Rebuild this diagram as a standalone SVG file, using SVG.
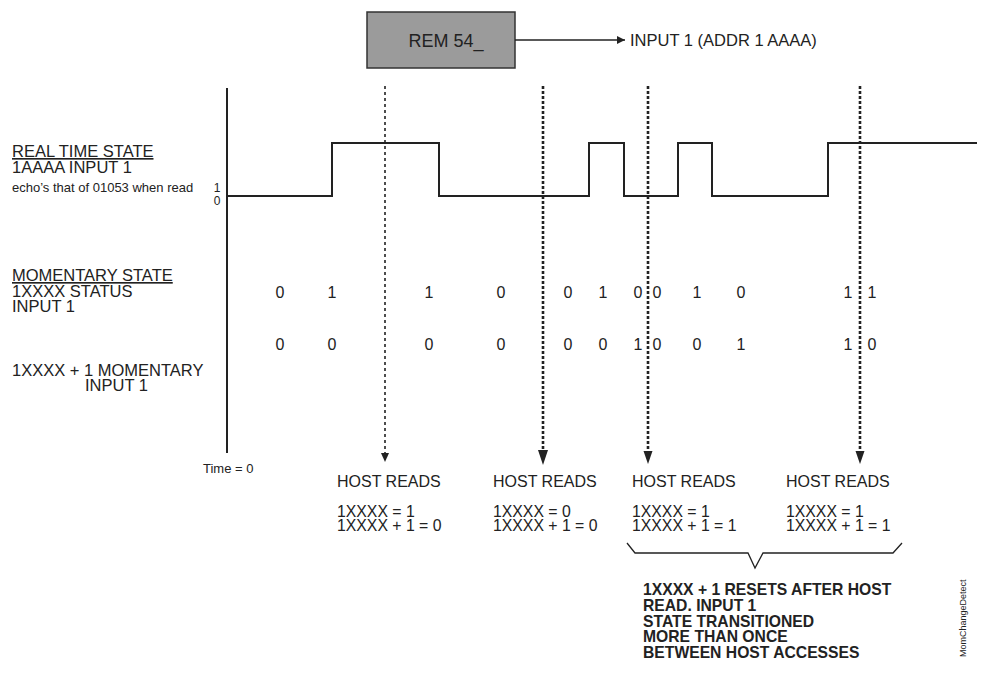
<svg xmlns="http://www.w3.org/2000/svg" width="986" height="679" viewBox="0 0 986 679">
<style>
text{font-family:"Liberation Sans",Arial,sans-serif;fill:#222}
.lbl{font-size:16.5px}
.hr{font-size:16px}
.eq{font-size:15.8px}
.sm{font-size:13px}
.d{font-size:16px;text-anchor:middle}
.b{font-size:15.7px;font-weight:bold}
.ln{fill:none;stroke:#222;stroke-width:2}
.dash1{stroke:#222;stroke-width:1.6;stroke-dasharray:3 3;fill:none}
.dash2{stroke:#222;stroke-width:2.6;stroke-dasharray:3 2;fill:none}
</style>
<defs>
<marker id="ah" viewBox="0 0 10 10" refX="10" refY="5" markerWidth="10" markerHeight="8" markerUnits="userSpaceOnUse" orient="auto"><path d="M0,0L10,5L0,10z" fill="#222"/></marker>
</defs>
<rect width="986" height="679" fill="#fff"/>
<g id="rem54">
<rect x="367" y="12" width="148" height="56" fill="#9b9b9b" stroke="#333" stroke-width="1.5"/>
<text x="446" y="47" text-anchor="middle" style="font-size:18px">REM 54_</text>
</g>
<g id="input-label"><text x="630" y="46" style="font-size:16.5px">INPUT 1 (ADDR 1 AAAA)</text></g>
<g id="labels">
<text x="12" y="157" class="lbl" text-decoration="underline">REAL TIME STATE</text>
<text x="12" y="173" class="lbl">1AAAA INPUT 1</text>
<text x="12" y="192" class="sm">echo’s that of 01053 when read</text>
<text x="217" y="192" style="font-size:12px" text-anchor="middle">1</text>
<text x="217" y="205" style="font-size:12px" text-anchor="middle">0</text>
<text x="12" y="281" class="lbl" text-decoration="underline">MOMENTARY STATE</text>
<text x="12" y="297" class="lbl">1XXXX STATUS</text>
<text x="12" y="312" class="lbl">INPUT 1</text>
<text x="12" y="376" class="lbl">1XXXX + 1 MOMENTARY</text>
<text x="85" y="391" class="lbl">INPUT 1</text>
<text x="203" y="473" class="sm">Time = 0</text>
</g>
<g id="axis"><line x1="227" y1="88" x2="227" y2="453" class="ln"/></g>
<g id="waveform"><path class="ln" d="M227,196H332V143H439V196H589V143H624V196H678V143H712V196H828V143H977"/></g>
<g id="row-status">
<text class="d" x="280" y="298">0</text><text class="d" x="332" y="298">1</text><text class="d" x="429" y="298">1</text><text class="d" x="501" y="298">0</text><text class="d" x="568" y="298">0</text><text class="d" x="603" y="298">1</text><text class="d" x="638" y="298">0</text><text class="d" x="657" y="298">0</text><text class="d" x="697" y="298">1</text><text class="d" x="741" y="298">0</text><text class="d" x="848" y="298">1</text><text class="d" x="872" y="298">1</text>
</g>
<g id="row-momentary">
<text class="d" x="280" y="350">0</text><text class="d" x="332" y="350">0</text><text class="d" x="429" y="350">0</text><text class="d" x="501" y="350">0</text><text class="d" x="568" y="350">0</text><text class="d" x="603" y="350">0</text><text class="d" x="638" y="350">1</text><text class="d" x="657" y="350">0</text><text class="d" x="697" y="350">0</text><text class="d" x="741" y="350">1</text><text class="d" x="848" y="350">1</text><text class="d" x="872" y="350">0</text>
</g>
<g id="connectors">
<line x1="515" y1="40" x2="625" y2="40" stroke="#222" stroke-width="1.5" marker-end="url(#ah)"/>
<line x1="385" y1="86" x2="385" y2="454" class="dash1"/>
<path d="M381,453L389,453L385,462z" fill="#222"/>
<line x1="543" y1="86" x2="543" y2="450" class="dash2"/>
<path d="M538,450L548,450L543,465z" fill="#222"/>
<line x1="648" y1="86" x2="648" y2="452" class="dash2"/>
<path d="M643.5,451L652.5,451L648,464z" fill="#222"/>
<line x1="860" y1="86" x2="860" y2="452" class="dash2"/>
<path d="M855.5,451L864.5,451L860,464z" fill="#222"/>
</g>
<g id="host-reads">
<text x="337" y="487" class="hr">HOST READS</text>
<text x="337" y="517" class="eq">1XXXX = 1</text>
<text x="337" y="531" class="eq">1XXXX + 1 = 0</text>
<text x="493" y="487" class="hr">HOST READS</text>
<text x="493" y="517" class="eq">1XXXX = 0</text>
<text x="493" y="531" class="eq">1XXXX + 1 = 0</text>
<text x="632" y="487" class="hr">HOST READS</text>
<text x="632" y="517" class="eq">1XXXX = 1</text>
<text x="632" y="531" class="eq">1XXXX + 1 = 1</text>
<text x="786" y="487" class="hr">HOST READS</text>
<text x="786" y="517" class="eq">1XXXX = 1</text>
<text x="786" y="531" class="eq">1XXXX + 1 = 1</text>
</g>
<g id="brace"><path d="M627,543L635,553H748L755,568L763,553H893L902,543" fill="none" stroke="#222" stroke-width="1.3"/></g>
<g id="note">
<text x="643" y="595" class="b">1XXXX + 1 RESETS AFTER HOST</text>
<text x="643" y="611" class="b">READ. INPUT 1</text>
<text x="643" y="627" class="b">STATE TRANSITIONED</text>
<text x="643" y="642" class="b">MORE THAN ONCE</text>
<text x="643" y="658" class="b">BETWEEN HOST ACCESSES</text>
</g>
<text x="0" y="0" transform="translate(966,657) rotate(-90)" style="font-size:9px">MomChangeDetect</text>
</svg>
